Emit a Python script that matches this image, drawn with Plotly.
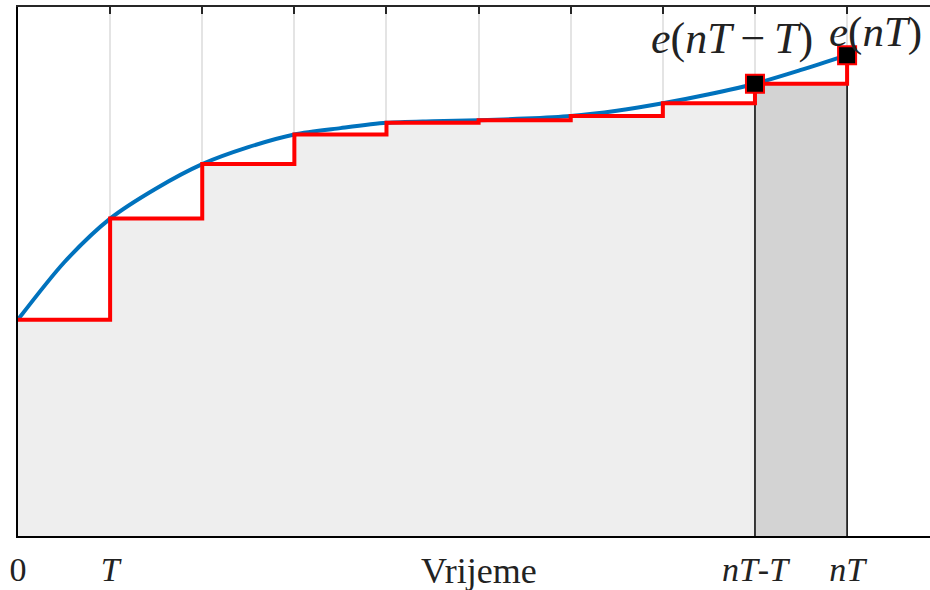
import plotly.graph_objects as go

# sample instants (multiples of T) and error values e(kT)
k_vals = [0, 1, 2, 3, 4, 5, 6, 7, 8, 9]
e_vals = [0.409, 0.600, 0.703, 0.759, 0.781, 0.786, 0.794, 0.818, 0.855, 0.909]
# continuous error curve (every half sample)
curve_t = [0, 0.5, 1, 1.5, 2, 2.5, 3, 3.5, 4, 4.5, 5, 5.5, 6, 6.5, 7, 7.5, 8, 8.5, 9]
curve_e = [0.409, 0.517, 0.600, 0.657, 0.703, 0.735, 0.759, 0.771, 0.781, 0.784,
           0.786, 0.789, 0.794, 0.804, 0.818, 0.835, 0.855, 0.881, 0.909]
tick_vals = [0, 1, 2, 3, 4, 5, 6, 7, 8, 9]
tick_text = ["0", "<i>T</i>", "", "", "", "", "", "", "<i>nT</i>-<i>T</i>", "<i>nT</i>"]

SERIF = "Liberation Serif"

fig = go.Figure()

# light area under the staircase (0 .. nT-T)
fig.add_trace(go.Scatter(
    x=k_vals[:9], y=e_vals[:9], mode="lines", line=dict(width=0, shape="hv"),
    fill="tozeroy", fillcolor="#eeeeee", hoverinfo="skip", showlegend=False))

# darker last rectangle (nT-T .. nT)
fig.add_trace(go.Scatter(
    x=[k_vals[8], k_vals[8], k_vals[9], k_vals[9]],
    y=[0, e_vals[8], e_vals[8], 0],
    mode="lines", line=dict(color="black", width=1.5),
    fill="toself", fillcolor="#d3d3d3", hoverinfo="skip", showlegend=False))

# continuous error curve
fig.add_trace(go.Scatter(
    x=curve_t, y=curve_e, mode="lines",
    line=dict(color="#0072BD", width=4, shape="spline", smoothing=0.8),
    showlegend=False))

# zero-order-hold staircase
fig.add_trace(go.Scatter(
    x=k_vals, y=e_vals, mode="lines",
    line=dict(color="#ff0000", width=4, shape="hv"), showlegend=False))

# markers at e(nT-T) and e(nT)
fig.add_trace(go.Scatter(
    x=k_vals[8:], y=e_vals[8:], mode="markers",
    marker=dict(symbol="square", size=18, color="black",
                line=dict(color="#ff0000", width=2)),
    showlegend=False))

# dummy trace for the top axis
fig.add_trace(go.Scatter(x=[0], y=[0], xaxis="x2", mode="markers",
                         marker=dict(opacity=0), hoverinfo="skip", showlegend=False))

fig.add_annotation(x=7.75, y=0.941, xref="x", yref="y",
                   text="<i>e</i>(<i>nT</i>\u2009\u2212\u2009<i>T</i>)", showarrow=False,
                   font=dict(family=SERIF, size=44, color="#222"))
fig.add_annotation(x=9.31, y=0.953, xref="x", yref="y",
                   text="<i>e</i>(<i>nT</i>)", showarrow=False,
                   font=dict(family=SERIF, size=43, color="#222"))
fig.add_annotation(x=5, y=0, xref="x", yref="paper", yanchor="middle", yshift=-35,
                   text="Vrijeme", showarrow=False,
                   font=dict(family=SERIF, size=36, color="#222"))

fig.update_layout(
    width=930, height=590,
    margin=dict(l=18, r=0, t=7, b=54),
    plot_bgcolor="white", paper_bgcolor="white",
    xaxis=dict(range=[0, 9.9], tickvals=tick_vals, ticktext=tick_text,
               showgrid=True, gridcolor="#e4e4e4", gridwidth=1.5,
               showline=True, linecolor="black", linewidth=2, automargin=False,
               ticks="", zeroline=False, ticklabelstandoff=2,
               tickfont=dict(family=SERIF, size=34, color="#222")),
    xaxis2=dict(range=[0, 9.9], overlaying="x", side="top", tickvals=tick_vals,
                showticklabels=False, ticks="inside", ticklen=7, tickwidth=2,
                tickcolor="#262626", showline=True, linecolor="#262626",
                linewidth=2, showgrid=False, zeroline=False, automargin=False),
    yaxis=dict(range=[0, 1], showgrid=False, showticklabels=False, ticks="",
               showline=True, linecolor="black", linewidth=2, zeroline=False,
               automargin=False),
)

fig.write_html("out.html", config={"displayModeBar": False},
               post_script="document.body.style.margin='0';document.body.style.overflow='hidden';")
